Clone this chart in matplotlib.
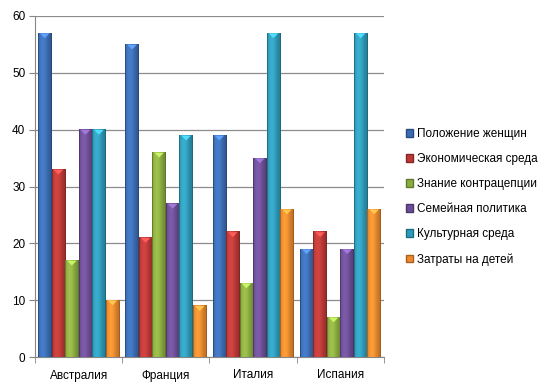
import matplotlib.pyplot as plt
import numpy as np
from matplotlib.colors import to_rgb
from matplotlib.patches import Patch

countries = ["Австралия", "Франция", "Италия", "Испания"]
factors = [
    "Положение женщин",
    "Экономическая среда",
    "Знание контрацепции",
    "Семейная политика",
    "Культурная среда",
    "Затраты на детей",
]
women_status = [57, 55, 39, 19]
economy = [33, 21, 22, 22]
contraception = [17, 36, 13, 7]
family_policy = [40, 27, 35, 19]
culture = [40, 39, 57, 57]
child_costs = [10, 9, 26, 26]
series = [women_status, economy, contraception, family_policy, culture, child_costs]

colors = ["#3a6db4", "#bd3835", "#8bad3f", "#6d4d97", "#2d9bb9", "#ef8a2c"]

plt.rcParams["font.family"] = ["Liberation Sans", "DejaVu Sans"]

fig = plt.figure(figsize=(5.56, 3.92), dpi=100)
ax = fig.add_axes([35 / 556, 1 - 357 / 392, (384 - 35) / 556, (357 - 16) / 392])

n = len(series)
bar_w = 0.155
x = np.arange(len(countries))


def shade(color, t):
    # horizontal gradient: darker edges, slightly lighter left-of-centre
    base = np.array(to_rgb(color))
    light = np.clip(base * 1.08 + 0.03, 0, 1)
    dark = base * 0.78
    prof = np.exp(-((t - 0.35) / 0.4) ** 2)
    col = dark[None, :] + (light - dark)[None, :] * prof[:, None]
    edge = (t < 0.05) | (t > 0.95)
    col[edge] = base * 0.62
    return col


t = np.linspace(0, 1, 40)
for i, (vals, c) in enumerate(zip(series, colors)):
    grad = shade(c, t)[None, :, :]
    for xi, v in zip(x, vals):
        x0 = xi - n * bar_w / 2 + i * bar_w
        ax.imshow(grad, extent=[x0, x0 + bar_w, 0, v], aspect="auto",
                  interpolation="bilinear", zorder=3)
        # small lighter cap at the top of each bar
        cap = np.clip(np.array(to_rgb(c)) * 1.3 + 0.08, 0, 1)
        ax.fill([x0 + bar_w * 0.15, x0 + bar_w * 0.85, x0 + bar_w * 0.5],
                [v - 0.05, v - 0.05, v - 0.9], color=cap, zorder=4, lw=0)

ax.set_xlim(-0.5, len(countries) - 0.5)
ax.set_ylim(0, 60)
ax.set_yticks(range(0, 61, 10))
ax.set_xticks(x)
ax.set_xticklabels(countries, fontsize=8.5)
ax.set_xticks(np.arange(-0.5, len(countries), 1), minor=True)
ax.tick_params(axis="x", which="major", length=0, pad=9)
ax.tick_params(axis="x", which="minor", length=4, color="#868686", direction="out")
ax.tick_params(axis="y", length=4, color="#868686", direction="out", labelsize=8.5, pad=3)

ax.yaxis.grid(True, color="#8c8c8c", lw=0.9)
ax.set_axisbelow(True)
for s in ["top", "right"]:
    ax.spines[s].set_visible(False)
for s in ["left", "bottom"]:
    ax.spines[s].set_color("#868686")

handles = [Patch(facecolor=c, edgecolor=np.array(to_rgb(c)) * 0.7) for c in colors]
fig.legend(handles, factors, loc="center left", bbox_to_anchor=(395 / 556, 1 - 197 / 392),
           frameon=False, fontsize=8.5, handlelength=0.6, handleheight=0.6,
           handletextpad=0.4, labelspacing=1.1)

fig.savefig("out.png", dpi=100)
